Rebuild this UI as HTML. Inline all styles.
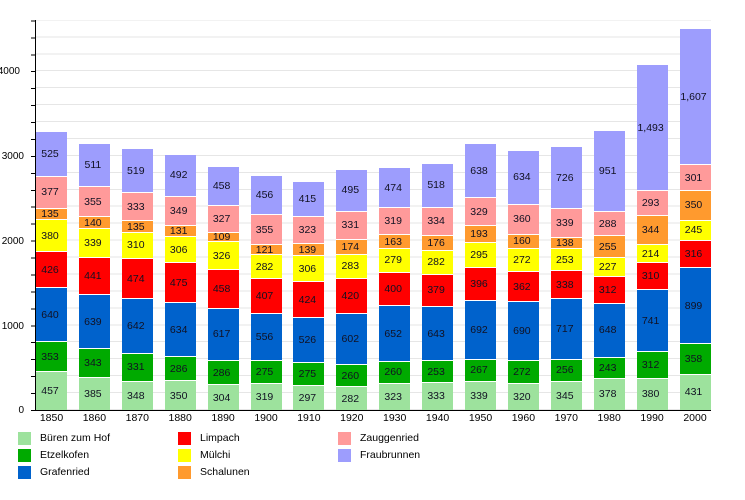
<!DOCTYPE html>
<html><head><meta charset="utf-8"><style>
body{margin:0;width:745px;height:500px;background:#fff;position:relative;overflow:hidden;font-family:"Liberation Sans",Arial,sans-serif;}
.grid{position:absolute;left:36px;top:20px;width:675px;height:390px;background:repeating-linear-gradient(to top,#e6e6e6 0 1px,transparent 1px 16.94px);background-position:0 100%;}
.yax{position:absolute;left:35px;top:20px;width:1px;height:391px;background:#000;}
.xax{position:absolute;left:35px;top:410px;width:676px;height:1px;background:#000;}
.ticks{position:absolute;left:31px;top:20px;width:4px;height:391px;background:repeating-linear-gradient(to top,#000 0 1px,transparent 1px 16.94px);background-position:0 100%;}
.yl{position:absolute;left:0;width:24px;text-align:right;font-size:10px;color:#000;}
.bar{position:absolute;bottom:90px;width:31px;display:flex;flex-direction:column-reverse;}
.bar div{height:calc(var(--v) * 0.0847px);box-sizing:border-box;border-top:1px solid #fff;display:flex;align-items:center;justify-content:center;font-size:10.5px;color:#112;padding-right:3px;overflow:visible;white-space:nowrap;}
.a{background:#9de29d}.b{background:#00aa00}.c{background:#0062cc}.d{background:#ff0000}.e{background:#ffff00}.f{background:#ff9a2e}.g{background:#ff9a9a}.h{background:#9d9dfd}
.xl{position:absolute;top:412px;width:31px;text-align:center;font-size:10.5px;}
.lg{position:absolute;width:13px;height:13px;}
.lt{position:absolute;font-size:10.5px;}
</style></head><body>
<div class="grid"></div>
<div class="ticks"></div>
<div class="yl" style="top:405px">0</div>
<div class="yl" style="top:321px">1000</div>
<div class="yl" style="top:236px">2000</div>
<div class="yl" style="top:151px">3000</div>
<div class="yl" style="top:66px;left:-4px">4000</div>

<div class="bar" style="left:36px"><div class="a" style="--v:457">457</div><div class="b" style="--v:353">353</div><div class="c" style="--v:640">640</div><div class="d" style="--v:426">426</div><div class="e" style="--v:380">380</div><div class="f" style="--v:135">135</div><div class="g" style="--v:377">377</div><div class="h" style="--v:525">525</div></div>
<div class="bar" style="left:78.9px"><div class="a" style="--v:385">385</div><div class="b" style="--v:343">343</div><div class="c" style="--v:639">639</div><div class="d" style="--v:441">441</div><div class="e" style="--v:339">339</div><div class="f" style="--v:140">140</div><div class="g" style="--v:355">355</div><div class="h" style="--v:511">511</div></div>
<div class="bar" style="left:121.8px"><div class="a" style="--v:348">348</div><div class="b" style="--v:331">331</div><div class="c" style="--v:642">642</div><div class="d" style="--v:474">474</div><div class="e" style="--v:310">310</div><div class="f" style="--v:135">135</div><div class="g" style="--v:333">333</div><div class="h" style="--v:519">519</div></div>
<div class="bar" style="left:164.7px"><div class="a" style="--v:350">350</div><div class="b" style="--v:286">286</div><div class="c" style="--v:634">634</div><div class="d" style="--v:475">475</div><div class="e" style="--v:306">306</div><div class="f" style="--v:131">131</div><div class="g" style="--v:349">349</div><div class="h" style="--v:492">492</div></div>
<div class="bar" style="left:207.6px"><div class="a" style="--v:304">304</div><div class="b" style="--v:286">286</div><div class="c" style="--v:617">617</div><div class="d" style="--v:458">458</div><div class="e" style="--v:326">326</div><div class="f" style="--v:109">109</div><div class="g" style="--v:327">327</div><div class="h" style="--v:458">458</div></div>
<div class="bar" style="left:250.5px"><div class="a" style="--v:319">319</div><div class="b" style="--v:275">275</div><div class="c" style="--v:556">556</div><div class="d" style="--v:407">407</div><div class="e" style="--v:282">282</div><div class="f" style="--v:121">121</div><div class="g" style="--v:355">355</div><div class="h" style="--v:456">456</div></div>
<div class="bar" style="left:293.4px"><div class="a" style="--v:297">297</div><div class="b" style="--v:275">275</div><div class="c" style="--v:526">526</div><div class="d" style="--v:424">424</div><div class="e" style="--v:306">306</div><div class="f" style="--v:139">139</div><div class="g" style="--v:323">323</div><div class="h" style="--v:415">415</div></div>
<div class="bar" style="left:336.3px"><div class="a" style="--v:282">282</div><div class="b" style="--v:260">260</div><div class="c" style="--v:602">602</div><div class="d" style="--v:420">420</div><div class="e" style="--v:283">283</div><div class="f" style="--v:174">174</div><div class="g" style="--v:331">331</div><div class="h" style="--v:495">495</div></div>
<div class="bar" style="left:379.2px"><div class="a" style="--v:323">323</div><div class="b" style="--v:260">260</div><div class="c" style="--v:652">652</div><div class="d" style="--v:400">400</div><div class="e" style="--v:279">279</div><div class="f" style="--v:163">163</div><div class="g" style="--v:319">319</div><div class="h" style="--v:474">474</div></div>
<div class="bar" style="left:422.1px"><div class="a" style="--v:333">333</div><div class="b" style="--v:253">253</div><div class="c" style="--v:643">643</div><div class="d" style="--v:379">379</div><div class="e" style="--v:282">282</div><div class="f" style="--v:176">176</div><div class="g" style="--v:334">334</div><div class="h" style="--v:518">518</div></div>
<div class="bar" style="left:465px"><div class="a" style="--v:339">339</div><div class="b" style="--v:267">267</div><div class="c" style="--v:692">692</div><div class="d" style="--v:396">396</div><div class="e" style="--v:295">295</div><div class="f" style="--v:193">193</div><div class="g" style="--v:329">329</div><div class="h" style="--v:638">638</div></div>
<div class="bar" style="left:507.9px"><div class="a" style="--v:320">320</div><div class="b" style="--v:272">272</div><div class="c" style="--v:690">690</div><div class="d" style="--v:362">362</div><div class="e" style="--v:272">272</div><div class="f" style="--v:160">160</div><div class="g" style="--v:360">360</div><div class="h" style="--v:634">634</div></div>
<div class="bar" style="left:550.8px"><div class="a" style="--v:345">345</div><div class="b" style="--v:256">256</div><div class="c" style="--v:717">717</div><div class="d" style="--v:338">338</div><div class="e" style="--v:253">253</div><div class="f" style="--v:138">138</div><div class="g" style="--v:339">339</div><div class="h" style="--v:726">726</div></div>
<div class="bar" style="left:593.7px"><div class="a" style="--v:378">378</div><div class="b" style="--v:243">243</div><div class="c" style="--v:648">648</div><div class="d" style="--v:312">312</div><div class="e" style="--v:227">227</div><div class="f" style="--v:255">255</div><div class="g" style="--v:288">288</div><div class="h" style="--v:951">951</div></div>
<div class="bar" style="left:636.6px"><div class="a" style="--v:380">380</div><div class="b" style="--v:312">312</div><div class="c" style="--v:741">741</div><div class="d" style="--v:310">310</div><div class="e" style="--v:214">214</div><div class="f" style="--v:344">344</div><div class="g" style="--v:293">293</div><div class="h" style="--v:1493">1,493</div></div>
<div class="bar" style="left:679.5px"><div class="a" style="--v:431">431</div><div class="b" style="--v:358">358</div><div class="c" style="--v:899">899</div><div class="d" style="--v:316">316</div><div class="e" style="--v:245">245</div><div class="f" style="--v:350">350</div><div class="g" style="--v:301">301</div><div class="h" style="--v:1607">1,607</div></div>

<div class="yax"></div><div class="xax"></div>

<div class="xl" style="left:36px">1850</div><div class="xl" style="left:78.9px">1860</div><div class="xl" style="left:121.8px">1870</div><div class="xl" style="left:164.7px">1880</div><div class="xl" style="left:207.6px">1890</div><div class="xl" style="left:250.5px">1900</div><div class="xl" style="left:293.4px">1910</div><div class="xl" style="left:336.3px">1920</div><div class="xl" style="left:379.2px">1930</div><div class="xl" style="left:422.1px">1940</div><div class="xl" style="left:465px">1950</div><div class="xl" style="left:507.9px">1960</div><div class="xl" style="left:550.8px">1970</div><div class="xl" style="left:593.7px">1980</div><div class="xl" style="left:636.6px">1990</div><div class="xl" style="left:679.5px">2000</div>

<div class="lg a" style="left:18px;top:432px"></div><div class="lt" style="left:40px;top:432px">Büren zum Hof</div>
<div class="lg b" style="left:18px;top:449px"></div><div class="lt" style="left:40px;top:449px">Etzelkofen</div>
<div class="lg c" style="left:18px;top:466px"></div><div class="lt" style="left:40px;top:466px">Grafenried</div>
<div class="lg d" style="left:178px;top:432px"></div><div class="lt" style="left:200px;top:432px">Limpach</div>
<div class="lg e" style="left:178px;top:449px"></div><div class="lt" style="left:200px;top:449px">Mülchi</div>
<div class="lg f" style="left:178px;top:466px"></div><div class="lt" style="left:200px;top:466px">Schalunen</div>
<div class="lg g" style="left:338px;top:432px"></div><div class="lt" style="left:360px;top:432px">Zauggenried</div>
<div class="lg h" style="left:338px;top:449px"></div><div class="lt" style="left:360px;top:449px">Fraubrunnen</div>
</body></html>
